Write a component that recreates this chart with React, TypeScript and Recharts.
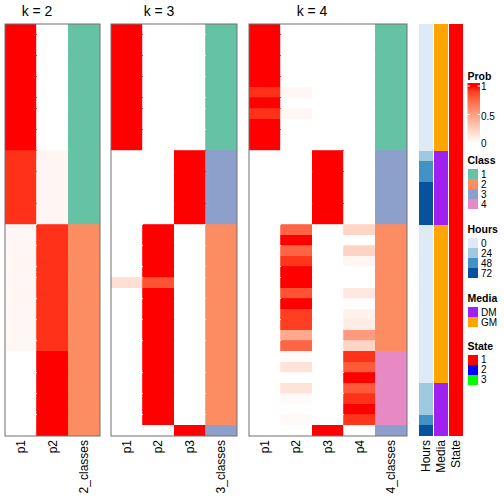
import React from 'react';
import { BarChart, Bar, XAxis, YAxis, Cell } from 'recharts';

// ---------- data (39 rows, top to bottom) ----------
const k2_p1 = [1,1,1,1,1,1,1,1,1,1,1,1, 0.93,0.93,0.93,0.93,0.93,0.93,0.93, 0.04,0.04,0.04,0.04,0.04,0.04,0.04,0.04,0.04,0.04,0.04,0.04, 0,0,0,0,0,0,0,0];
const k2_p2 = [0,0,0,0,0,0,0,0,0,0,0,0, 0.05,0.05,0.05,0.05,0.05,0.05,0.05, 0.93,0.93,0.93,0.93,0.93,0.93,0.93,0.93,0.93,0.93,0.93,0.93, 1,1,1,1,1,1,1,1];
const k2_class = [1,1,1,1,1,1,1,1,1,1,1,1, 1,1,1,1,1,1,1, 2,2,2,2,2,2,2,2,2,2,2,2, 2,2,2,2,2,2,2,2];

const k3_p1 = [1,1,1,1,1,1,1,1,1,1,1,1, 0,0,0,0,0,0,0, 0,0,0,0,0,0.17,0,0,0,0,0,0, 0,0,0,0,0,0,0,0];
const k3_p2 = [0,0,0,0,0,0,0,0,0,0,0,0, 0,0,0,0,0,0,0, 1,1,1,1,1,0.83,1,1,1,1,1,1, 1,1,1,1,1,1,1,0];
const k3_p3 = [0,0,0,0,0,0,0,0,0,0,0,0, 1,1,1,1,1,1,1, 0,0,0,0,0,0,0,0,0,0,0,0, 0,0,0,0,0,0,0,1];
const k3_class = [1,1,1,1,1,1,1,1,1,1,1,1, 3,3,3,3,3,3,3, 2,2,2,2,2,2,2,2,2,2,2,2, 2,2,2,2,2,2,2,3];

const k4_p1 = [1,1,1,1,1,1,0.93,1,0.93,1,1,1, 0,0,0,0,0,0,0, 0,0,0,0,0,0,0,0,0,0,0,0, 0,0,0,0,0,0,0,0];
const k4_p2 = [0,0,0,0,0,0,0.04,0,0.04,0,0,0, 0,0,0,0,0,0,0, 0.76,1,0.76,0.92,1,1,0.83,1,0.9,0.9,0.45,0.76, 0.02,0.15,0,0.15,0.03,0,0.03,0];
const k4_p3 = [0,0,0,0,0,0,0,0,0,0,0,0, 1,1,1,1,1,1,1, 0,0,0,0,0,0,0,0,0,0,0,0, 0,0,0,0,0,0,0,1];
const k4_p4 = [0,0,0,0,0,0,0,0,0,0,0,0, 0,0,0,0,0,0,0, 0.22,0,0.23,0.05,0,0,0.12,0.01,0.07,0.1,0.52,0.22, 0.93,0.8,1,0.8,0.93,1,0.92,0];
const k4_class = [1,1,1,1,1,1,1,1,1,1,1,1, 3,3,3,3,3,3,3, 2,2,2,2,2,2,2,2,2,2,2,2, 4,4,4,4,4,4,4,3];

const hours = [0,0,0,0,0,0,0,0,0,0,0,0, 24,48,48,72,72,72,72, 0,0,0,0,0,0,0,0,0,0,0,0, 0,0,0,24,24,24,48,72];
const media = ['GM','GM','GM','GM','GM','GM','GM','GM','GM','GM','GM','GM', 'DM','DM','DM','DM','DM','DM','DM', 'GM','GM','GM','GM','GM','GM','GM','GM','GM','GM','GM','GM', 'GM','GM','GM','DM','DM','DM','DM','DM'];
const state = [1,1,1,1,1,1,1,1,1,1,1,1, 1,1,1,1,1,1,1, 1,1,1,1,1,1,1,1,1,1,1,1, 1,1,1,1,1,1,1,1];

const classLevels = ['1', '2', '3', '4'];
const hoursLevels = ['0', '24', '48', '72'];
const mediaLevels = ['DM', 'GM'];
const stateLevels = ['1', '2', '3'];
const probTicks = ['1', '0.5', '0'];

// ---------- colours ----------
const CLASS_COL: Record<string, string> = { '1': '#66C2A5', '2': '#FC8D62', '3': '#8DA0CB', '4': '#E78AC3' };
const HOURS_COL: Record<string, string> = { '0': '#DEEBF7', '24': '#9ECAE1', '48': '#4292C6', '72': '#08519C' };
const MEDIA_COL: Record<string, string> = { DM: '#A020F0', GM: '#FFA500' };
const STATE_COL: Record<string, string> = { '1': '#FF0000', '2': '#0000FF', '3': '#00FF00' };

const s2l = (c: number) => (c <= 0.04045 ? c / 12.92 : Math.pow((c + 0.055) / 1.055, 2.4));
const l2s = (c: number) => (c <= 0.0031308 ? 12.92 * c : 1.055 * Math.pow(c, 1 / 2.4) - 0.055);
function rgb2lab(r: number, g: number, b: number) {
  const R = s2l(r / 255), G = s2l(g / 255), B = s2l(b / 255);
  const X = (0.4124 * R + 0.3576 * G + 0.1805 * B) / 0.95047;
  const Y = 0.2126 * R + 0.7152 * G + 0.0722 * B;
  const Z = (0.0193 * R + 0.1192 * G + 0.9505 * B) / 1.08883;
  const f = (t: number) => (t > 0.008856 ? Math.cbrt(t) : 7.787 * t + 16 / 116);
  const fx = f(X), fy = f(Y), fz = f(Z);
  return [116 * fy - 16, 500 * (fx - fy), 200 * (fy - fz)];
}
function lab2hex(L: number, a: number, b: number) {
  const fy = (L + 16) / 116, fx = fy + a / 500, fz = fy - b / 200;
  const fi = (t: number) => (t * t * t > 0.008856 ? t * t * t : (t - 16 / 116) / 7.787);
  const X = fi(fx) * 0.95047, Y = fi(fy), Z = fi(fz) * 1.08883;
  const r = 3.2406 * X - 1.5372 * Y - 0.4986 * Z;
  const g = -0.9689 * X + 1.8758 * Y + 0.0415 * Z;
  const bb = 0.0557 * X - 0.204 * Y + 1.057 * Z;
  const h = (v: number) => {
    const c = Math.round(Math.min(1, Math.max(0, l2s(Math.min(1, Math.max(0, v))))) * 255);
    return c.toString(16).padStart(2, '0');
  };
  return '#' + h(r) + h(g) + h(bb);
}
const LAB_W = rgb2lab(255, 255, 255);
const LAB_R = rgb2lab(255, 0, 0);
const probColor = (v: number) =>
  lab2hex(LAB_W[0] + (LAB_R[0] - LAB_W[0]) * v, LAB_W[1] + (LAB_R[1] - LAB_W[1]) * v, LAB_W[2] + (LAB_R[2] - LAB_W[2]) * v);

// ---------- layout ----------
const FONT = '"Liberation Sans", Arial, Helvetica, sans-serif';
const TOP = 24;
const BOTTOM_MARGIN = 8;
const AXIS_H = 60;
const H = 504;
const N = k2_p1.length;
const rowKeys = k2_p1.map((_, i) => 'r' + i);

type Col = { name: string; values: (number | string)[]; color: (v: any) => string };

const RotTick = (props: any) => {
  const { x, y, payload } = props;
  return (
    <text
      x={x}
      y={y}
      transform={`rotate(-90 ${x} ${y})`}
      textAnchor="end"
      dominantBaseline="central"
      fontFamily={FONT}
      fontSize={12}
      fill="#000"
    >
      {payload.value}
    </text>
  );
};

function Panel({ left, width, cols, gap, seam }: { left: number; width: number; cols: Col[]; gap: number; seam: boolean }) {
  const data = cols.map((c) => {
    const row: any = { name: c.name };
    rowKeys.forEach((k) => (row[k] = 1));
    return row;
  });
  return (
    <div style={{ position: 'absolute', left, top: 0 }}>
      <BarChart
        width={width}
        height={H}
        data={data}
        margin={{ top: TOP, right: 0, bottom: BOTTOM_MARGIN, left: 0 }}
        barCategoryGap={gap}
        barGap={0}
      >
        <XAxis
          dataKey="name"
          type="category"
          height={AXIS_H}
          interval={0}
          tickLine={false}
          axisLine={false}
          tickSize={0}
          tickMargin={4}
          tick={<RotTick />}
        />
        <YAxis hide type="number" domain={[0, N]} reversed allowDataOverflow />
        {rowKeys.map((k, i) => (
          <Bar key={k} dataKey={k} stackId="s" isAnimationActive={false} shapeRendering="crispEdges">
            {cols.map((c, j) => {
              const f = c.color(c.values[i]);
              return <Cell key={j} fill={f} stroke={seam ? f : 'none'} strokeWidth={seam ? 0.8 : 0} />;
            })}
          </Bar>
        ))}
      </BarChart>
    </div>
  );
}

const clsCol = (v: number) => CLASS_COL[String(v)];

const panels = [
  { left: 5, width: 95, title: 'k = 2', titleX: 37, cols: [
    { name: 'p1', values: k2_p1, color: probColor },
    { name: 'p2', values: k2_p2, color: probColor },
    { name: '2_classes', values: k2_class, color: clsCol },
  ] },
  { left: 111, width: 126, title: 'k = 3', titleX: 159, cols: [
    { name: 'p1', values: k3_p1, color: probColor },
    { name: 'p2', values: k3_p2, color: probColor },
    { name: 'p3', values: k3_p3, color: probColor },
    { name: '3_classes', values: k3_class, color: clsCol },
  ] },
  { left: 249, width: 158, title: 'k = 4', titleX: 312, cols: [
    { name: 'p1', values: k4_p1, color: probColor },
    { name: 'p2', values: k4_p2, color: probColor },
    { name: 'p3', values: k4_p3, color: probColor },
    { name: 'p4', values: k4_p4, color: probColor },
    { name: '4_classes', values: k4_class, color: clsCol },
  ] },
];

const annoCols: Col[] = [
  { name: 'Hours', values: hours, color: (v) => HOURS_COL[String(v)] },
  { name: 'Media', values: media, color: (v) => MEDIA_COL[String(v)] },
  { name: 'State', values: state, color: (v) => STATE_COL[String(v)] },
];

function Legends() {
  const lx = 467.5;
  const sw = 10;
  const txt = (x: number, y: number, s: string, bold = false) => (
    <text key={s + y} x={x} y={y} fontFamily={FONT} fontSize={bold ? 10.5 : 10} fontWeight={bold ? 'bold' : 'normal'} dominantBaseline="central" fill="#000">
      {s}
    </text>
  );
  const discrete = (title: string, titleY: number, levels: string[], cmap: Record<string, string>) => (
    <g key={title}>
      {txt(lx, titleY, title, true)}
      {levels.map((l, i) => (
        <g key={l}>
          <rect x={lx} y={titleY + 9 + i * sw} width={sw} height={sw} fill={cmap[l]} shapeRendering="crispEdges" />
          {txt(lx + 13.5, titleY + 9 + i * sw + sw / 2, l)}
        </g>
      ))}
    </g>
  );
  const y1 = 86, y0 = 143, barTop = 83, barBot = 146;
  const stops = [0, 0.1, 0.2, 0.3, 0.4, 0.5, 0.6, 0.7, 0.8, 0.9, 1];
  const probY = (v: number) => y0 + (y1 - y0) * v;
  return (
    <svg width={504} height={504} style={{ position: 'absolute', left: 0, top: 0, pointerEvents: 'none' }}>
      <defs>
        <linearGradient id="probGrad" x1="0" y1={barBot} x2="0" y2={barTop} gradientUnits="userSpaceOnUse">
          {stops.map((v) => (
            <stop key={v} offset={(probY(v) - barBot) / (barTop - barBot)} stopColor={probColor(v)} />
          ))}
        </linearGradient>
      </defs>
      {txt(lx, 75.5, 'Prob', true)}
      <rect x={lx} y={barTop} width={12.5} height={barBot - barTop} fill="url(#probGrad)" />
      {[1, 0.5, 0].map((v, i) => (
        <g key={v}>
          <line x1={lx} x2={lx + 2.5} y1={probY(v)} y2={probY(v)} stroke="#fff" strokeWidth={1} />
          <line x1={lx + 10} x2={lx + 12.5} y1={probY(v)} y2={probY(v)} stroke="#fff" strokeWidth={1} />
          {txt(lx + 13.5, probY(v) + (i === 1 ? 1.5 : 0.5), probTicks[i])}
        </g>
      ))}
      {discrete('Class', 160, classLevels, CLASS_COL)}
      {discrete('Hours', 229, hoursLevels, HOURS_COL)}
      {discrete('Media', 298, mediaLevels, MEDIA_COL)}
      {discrete('State', 345.5, stateLevels, STATE_COL)}
    </svg>
  );
}

function Frames() {
  return (
    <svg width={504} height={504} style={{ position: 'absolute', left: 0, top: 0, pointerEvents: 'none' }}>
      {panels.map((p) => (
        <g key={p.title}>
          <text x={p.titleX} y={15.5} textAnchor="middle" fontFamily={FONT} fontSize={14} fill="#000">
            {p.title}
          </text>
          <rect x={p.left} y={TOP} width={p.width} height={H - TOP - BOTTOM_MARGIN - AXIS_H} fill="none" stroke="#707070" strokeWidth={1} />
        </g>
      ))}
    </svg>
  );
}

export default function App() {
  return (
    <div style={{ position: 'absolute', left: 0, top: 0, width: 504, height: 504, background: '#fff', overflow: 'hidden' }}>
      {panels.map((p) => (
        <Panel key={p.title} left={p.left} width={p.width} cols={p.cols} gap={0} seam={true} />
      ))}
      <Panel left={417.5} width={45} cols={annoCols} gap={0.5} seam={false} />
      <Frames />
      <Legends />
    </div>
  );
}
